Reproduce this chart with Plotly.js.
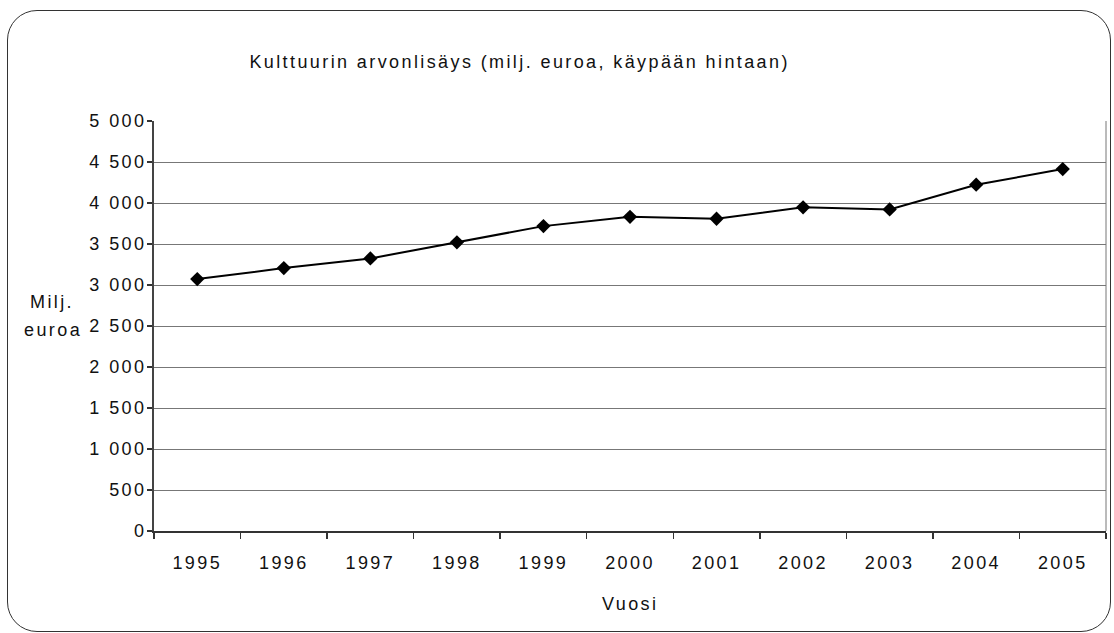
<!DOCTYPE html>
<html>
<head>
<meta charset="utf-8">
<script src="https://cdn.plot.ly/plotly-3.0.1.min.js"></script>
<style>
html, body { margin:0; padding:0; background:#fff; }
#wrap { position:relative; width:1114px; height:633px; }
#chart { width:1114px; height:633px; }
#frame { position:absolute; left:7px; top:10px; width:1104px; height:622px; border:1.5px solid #333; border-radius:30px; pointer-events:none; box-sizing:border-box; }
#chart text { letter-spacing: 2.4px; }
</style>
</head>
<body>
<div id="wrap">
<div id="chart"></div>
<div id="frame"></div>
</div>
<script>
const years = ['1995','1996','1997','1998','1999','2000','2001','2002','2003','2004','2005'];
const values = [3072, 3206, 3324, 3520, 3718, 3832, 3808, 3947, 3922, 4223, 4414];
const yTickVals = [0, 500, 1000, 1500, 2000, 2500, 3000, 3500, 4000, 4500, 5000];
const yTickText = ['0', '500', '1 000', '1 500', '2 000', '2 500', '3 000', '3 500', '4 000', '4 500', '5 000'];
const titleText = 'Kulttuurin arvonlisäys (milj. euroa, käypään hintaan)';
const xTitle = 'Vuosi';
const yTitleLines = ['Milj.', 'euroa'];

const FONT = 'Liberation Sans, Arial, sans-serif';
const FS = 18;

const trace = {
  x: years, y: values, type: 'scatter', mode: 'lines+markers',
  line: {color: '#000', width: 2},
  marker: {symbol: 'diamond', size: 11, color: '#000'},
  hoverinfo: 'x+y', showlegend: false
};

const layout = {
  width: 1114, height: 633,
  margin: {l: 154, r: 8, t: 121, b: 102},
  paper_bgcolor: '#fff', plot_bgcolor: '#fff',
  font: {family: FONT, size: FS, color: '#111'},
  xaxis: {
    type: 'category', tickson: 'boundaries', ticks: 'outside', ticklen: 6, tickcolor: '#333', tickwidth: 1.5,
    showgrid: false, showline: true, linecolor: '#333', linewidth: 1.5,
    tickfont: {family: FONT, size: FS, color: '#111'}, ticklabelstandoff: 15,
    range: [-0.5, 10.5], zeroline: false
  },
  yaxis: {
    range: [0, 5000], tickvals: yTickVals, ticktext: yTickText,
    ticks: 'outside', ticklen: 5, tickcolor: '#333', tickwidth: 1.5,
    showgrid: true, gridcolor: '#777', gridwidth: 1,
    showline: true, linecolor: '#444', linewidth: 2, zeroline: false,
    tickfont: {family: FONT, size: FS, color: '#111'}, ticklabelstandoff: -3
  },
  shapes: [
    {type: 'line', xref: 'paper', yref: 'paper', x0: 1, x1: 1, y0: 0, y1: 1, line: {color: '#777', width: 1}}
  ],
  annotations: [
    {text: titleText, xref: 'paper', yref: 'paper', x: (519-154)/952, y: 1 + (121-62)/410, xanchor: 'center', yanchor: 'middle', showarrow: false, font: {family: FONT, size: FS, color: '#111'}},
    {text: xTitle, xref: 'paper', yref: 'paper', x: 0.5, y: -(604-531)/410, xanchor: 'center', yanchor: 'middle', showarrow: false, font: {family: FONT, size: FS, color: '#111'}},
    {text: yTitleLines[0], xref: 'paper', yref: 'paper', x: (52-154)/952, y: (531-302)/410, xanchor: 'center', yanchor: 'middle', showarrow: false, font: {family: FONT, size: FS, color: '#111'}},
    {text: yTitleLines[1], xref: 'paper', yref: 'paper', x: (53-154)/952, y: (531-330)/410, xanchor: 'center', yanchor: 'middle', showarrow: false, font: {family: FONT, size: FS, color: '#111'}}
  ]
};

Plotly.newPlot('chart', [trace], layout, {displayModeBar: false, staticPlot: true});
</script>
</body>
</html>
